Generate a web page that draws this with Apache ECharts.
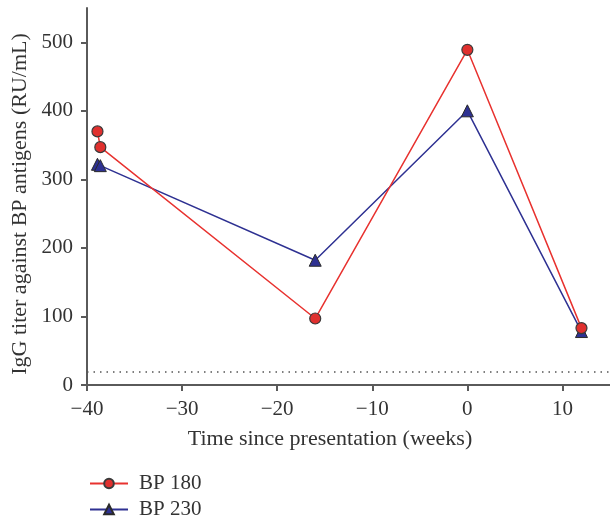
<!DOCTYPE html>
<html>
<head>
<meta charset="utf-8">
<script src="https://cdn.jsdelivr.net/npm/echarts@6/dist/echarts.min.js"></script>
<style>html,body{margin:0;padding:0;background:#fff}#c{width:610px;height:517px}</style>
</head>
<body>
<div id="c"></div>
<script>
const weeks180 = [-38.9, -38.6, -16, 0, 12];
const titer180 = [370, 347, 97, 489, 83];
const weeks230 = [-38.9, -38.6, -16, 0, 12];
const titer230 = [322, 320, 182, 400, 78];
const xTicks = [-40, -30, -20, -10, 0, 10];
const yTicks = [0, 100, 200, 300, 400, 500];
const cutoff = 20;
const seriesNames = ['BP 180', 'BP 230'];
const xTitle = 'Time since presentation (weeks)';
const yTitle = 'IgG titer against BP antigens (RU/mL)';

const FONT = '"Liberation Serif", "DejaVu Serif", serif';
const chart = echarts.init(document.getElementById('c'), null, {renderer: 'canvas'});
const lineCol = '#5a5a5a';
const legendCommon = {
  orient: 'vertical', left: 84, itemWidth: 38, itemHeight: 12,
  textStyle: {fontFamily: FONT, fontSize: 21, color: '#333', padding: [0, 0, 0, 6]}
};
chart.setOption({
  animation: false,
  backgroundColor: '#fff',
  grid: {left: 87, right: 0, top: 8, bottom: 132, containLabel: false},
  xAxis: {
    type: 'value', min: -40, max: 15, interval: 10,
    axisLine: {show: true, onZero: false, lineStyle: {color: lineCol, width: 2}},
    axisTick: {show: true, length: 6, customValues: xTicks, lineStyle: {color: lineCol, width: 2}},
    splitLine: {show: false},
    axisLabel: {customValues: xTicks, fontFamily: FONT, fontSize: 21, color: '#333', margin: 14,
      formatter: v => (v < 0 ? '\u2212' + Math.abs(v) : String(v))}
  },
  yAxis: {
    type: 'value', min: 0, max: 550, interval: 50,
    axisLine: {show: true, onZero: false, lineStyle: {color: lineCol, width: 2}},
    axisTick: {show: true, length: 6, customValues: yTicks, lineStyle: {color: lineCol, width: 2}},
    splitLine: {show: false},
    axisLabel: {customValues: yTicks, fontFamily: FONT, fontSize: 21, color: '#333', margin: 14}
  },
  legend: [
    Object.assign({top: 468, data: [seriesNames[0]]}, legendCommon),
    Object.assign({top: 494, data: [seriesNames[1]]}, legendCommon)
  ],
  graphic: [
    {type: 'text', x: 330, y: 439,
      style: {text: xTitle, font: '22px ' + FONT, fill: '#333', align: 'center', verticalAlign: 'middle'}},
    {type: 'text', rotation: Math.PI / 2, x: 20, y: 204,
      style: {text: yTitle, font: '22px ' + FONT, fill: '#333', align: 'center', verticalAlign: 'middle'}}
  ],
  series: [
    {
      name: seriesNames[0], type: 'line',
      data: weeks180.map((x, i) => [x, titer180[i]]),
      symbol: 'circle', symbolSize: 11,
      lineStyle: {color: '#e8322f', width: 1.5},
      itemStyle: {color: '#e0302e', borderColor: '#3a3a3a', borderWidth: 1.2},
      z: 3,
      markLine: {
        silent: true, symbol: 'none', label: {show: false},
        lineStyle: {color: '#555', type: [1.5, 5], width: 1.5},
        data: [{yAxis: cutoff}]
      }
    },
    {
      name: seriesNames[1], type: 'line',
      data: weeks230.map((x, i) => [x, titer230[i]]),
      symbol: 'triangle', symbolSize: 12,
      lineStyle: {color: '#2e3192', width: 1.5},
      itemStyle: {color: '#2e3192', borderColor: '#2a2a2a', borderWidth: 1},
      z: 2
    }
  ]
});
</script>
</body>
</html>
